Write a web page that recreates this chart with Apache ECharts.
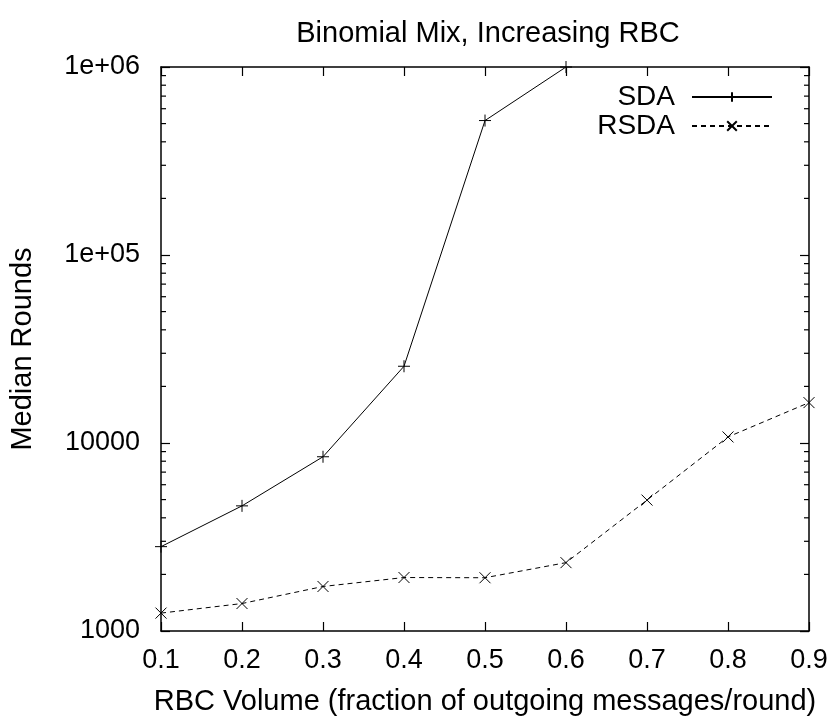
<!DOCTYPE html>
<html><head><meta charset="utf-8">
<script src="https://cdn.jsdelivr.net/npm/echarts@6/dist/echarts.min.js"></script>
<style>html,body{margin:0;padding:0;background:#fff}#c{width:836px;height:721px}</style>
</head><body><div id="c"></div>
<script>
const xValues = [0.1, 0.2, 0.3, 0.4, 0.5, 0.6, 0.7, 0.8, 0.9];
const sdaValues = [2810, 4630, 8450, 25600, 519000, 1000000];
const rsdaValues = [1245, 1400, 1725, 1925, 1920, 2310, 4970, 10770, 16400];
const yTickValues = [1000, 10000, 100000, 1000000];
const yTickLabels = ['1000', '10000', '1e+05', '1e+06'];
const minorTickValues = [2000,3000,4000,5000,6000,7000,8000,9000,20000,30000,40000,50000,60000,70000,80000,90000,200000,300000,400000,500000,600000,700000,800000,900000];

const font = '"Liberation Sans", Arial, sans-serif';
const plusPath = 'path://M0,5L10,5M5,0L5,10';
const crossPath = 'path://M0,0L10,10M10,0L0,10';

const chart = echarts.init(document.getElementById('c'), null, {renderer: 'canvas'});
const axisLine = {show: true, lineStyle: {color: '#000', width: 1.5}};
const majorTick = {show: true, inside: true, length: 9, lineStyle: {color: '#000', width: 1.2}};
const yFmt = v => { const i = yTickValues.indexOf(v); return i >= 0 ? yTickLabels[i] : ''; };

chart.setOption({
  animation: false,
  backgroundColor: '#fff',
  textStyle: {fontFamily: font},
  title: {text: 'Binomial Mix, Increasing RBC', left: 483, textAlign: 'center', top: 14,
    textStyle: {fontFamily: font, fontSize: 29, fontWeight: 'normal', color: '#000'}},
  grid: {left: 161, top: 67, right: 27, bottom: 88, show: false},
  legend: {
    data: ['SDA', 'RSDA'], orient: 'vertical', right: 58, top: 78, align: 'right',
    itemWidth: 80, itemHeight: 12, itemGap: 1,
    textStyle: {fontFamily: font, fontSize: 28, color: '#000', padding: [0, 12, 0, 0]}
  },
  xAxis: [{
    type: 'value', min: 0.1, max: 0.9, interval: 0.1, position: 'bottom',
    name: 'RBC Volume (fraction of outgoing messages/round)', nameLocation: 'middle', nameGap: 56,
    nameTextStyle: {fontFamily: font, fontSize: 29, color: '#000', verticalAlign: 'top'},
    axisLine: axisLine, axisTick: majorTick, splitLine: {show: false},
    axisLabel: {fontFamily: font, fontSize: 27, color: '#000', margin: 16, formatter: v => v.toFixed(1)}
  }, {
    type: 'value', min: 0.1, max: 0.9, interval: 0.1, position: 'top',
    axisLine: axisLine, axisTick: majorTick, splitLine: {show: false}, axisLabel: {show: false}
  }],
  yAxis: [{
    type: 'log', logBase: 10, min: 1000, max: 1000000, position: 'left',
    name: 'Median Rounds', nameLocation: 'middle', nameGap: 124,
    nameTextStyle: {fontFamily: font, fontSize: 29, color: '#000'},
    axisLine: axisLine, axisTick: majorTick, splitLine: {show: false},
    axisLabel: {fontFamily: font, fontSize: 27, color: '#000', margin: 21, formatter: yFmt}
  }, {
    type: 'log', logBase: 10, min: 1000, max: 1000000, position: 'right',
    axisLine: axisLine, axisTick: majorTick, splitLine: {show: false}, axisLabel: {show: false}
  }],
  series: [{
    name: 'SDA', type: 'line', xAxisIndex: 0, yAxisIndex: 0,
    data: sdaValues.map((v, i) => [xValues[i], v]),
    symbol: plusPath, symbolSize: 12, showSymbol: true,
    lineStyle: {color: '#000', width: 1, type: 'solid'},
    itemStyle: {color: 'transparent', borderColor: '#000', borderWidth: 1},
    color: '#000'
  }, {
    name: 'RSDA', type: 'line', xAxisIndex: 0, yAxisIndex: 0,
    data: rsdaValues.map((v, i) => [xValues[i], v]),
    symbol: crossPath, symbolSize: 11, showSymbol: true,
    lineStyle: {color: '#000', width: 1, type: [5, 4]},
    itemStyle: {color: 'transparent', borderColor: '#000', borderWidth: 1},
    color: '#000'
  }, {
    name: 'minor', type: 'custom', xAxisIndex: 0, yAxisIndex: 0, silent: true, clip: false,
    data: minorTickValues.map(v => [0.1, v]),
    renderItem: function (params, api) {
      const y = api.value(1);
      const p = api.coord([0.1, y]);
      const q = api.coord([0.9, y]);
      const st = {stroke: '#000', lineWidth: 1.2};
      return {type: 'group', children: [
        {type: 'line', shape: {x1: p[0], y1: p[1], x2: p[0] + 5, y2: p[1]}, style: st},
        {type: 'line', shape: {x1: q[0] - 5, y1: q[1], x2: q[0], y2: q[1]}, style: st}
      ]};
    }
  }]
});
</script></body></html>
